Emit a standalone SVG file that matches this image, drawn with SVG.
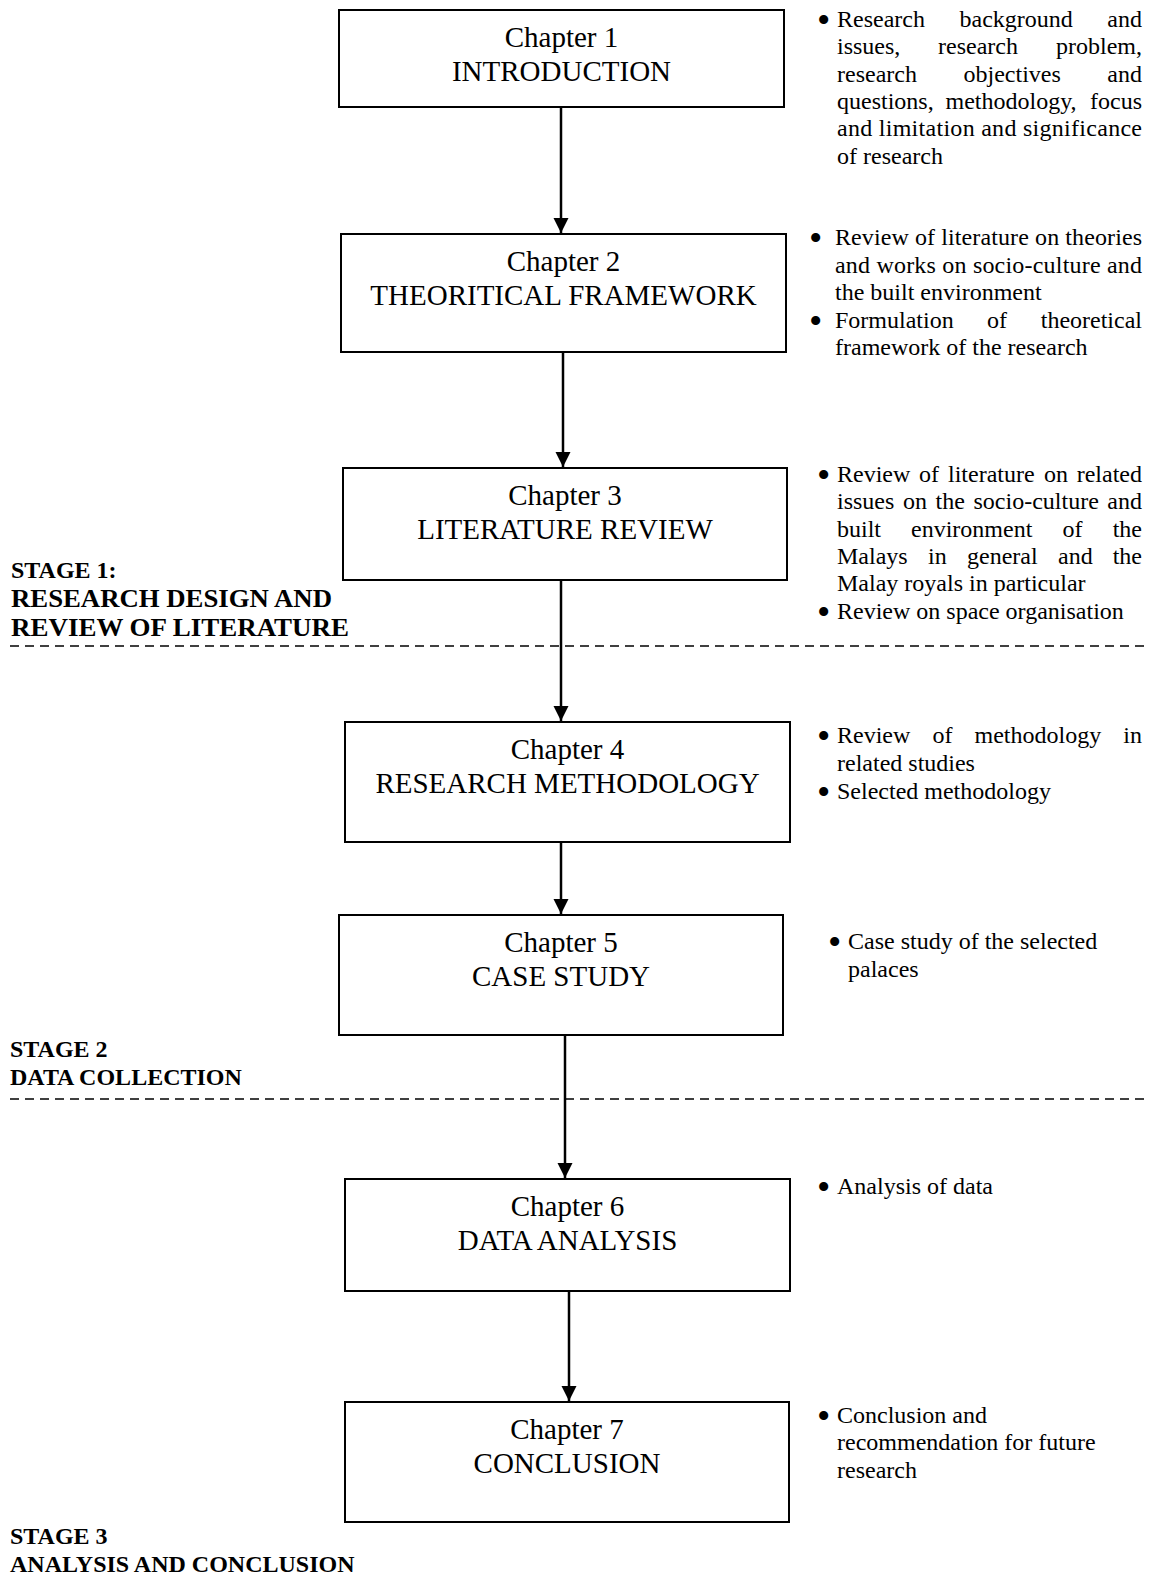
<svg xmlns="http://www.w3.org/2000/svg" width="1152" height="1584" viewBox="0 0 1152 1584">
<style>
.box{fill:#fff;stroke:#000;stroke-width:2}
.bt{font-family:"Liberation Serif","Times New Roman",serif;font-size:29px;fill:#000;text-anchor:middle}
.st{font-family:"Liberation Serif","Times New Roman",serif;font-size:24px;font-weight:bold;fill:#000}
.st2{font-family:"Liberation Serif","Times New Roman",serif;font-size:26px;font-weight:bold;fill:#000}
.nt{font-family:"Liberation Serif","Times New Roman",serif;font-size:24px;fill:#000}
.ne{font-family:"Liberation Serif","Times New Roman",serif;font-size:24px;fill:#000;text-anchor:end}
.bu{font-family:"Liberation Serif","Times New Roman",serif;font-size:38px;fill:#000}
.conn{stroke:#000;stroke-width:2.5;fill:none;marker-end:url(#ah)}
.dash{stroke:#000;stroke-width:1.5;stroke-dasharray:9 6;fill:none}
</style>
<defs>
<marker id="ah" markerUnits="userSpaceOnUse" markerWidth="16" markerHeight="16" viewBox="0 0 16 16" refX="15" refY="8" orient="auto">
<path d="M0,0.5 L15,8 L0,15.5 z" fill="#000"/>
</marker>
</defs>

<g id="stage-lines">
<line class="dash" x1="10" y1="646" x2="1150" y2="646"/>
<line class="dash" x1="10" y1="1099" x2="1150" y2="1099"/>
</g>

<g id="connectors">
<line class="conn" x1="561" y1="108" x2="561" y2="233"/>
<line class="conn" x1="563" y1="353" x2="563" y2="467"/>
<line class="conn" x1="561" y1="581" x2="561" y2="721"/>
<line class="conn" x1="561" y1="843" x2="561" y2="914"/>
<line class="conn" x1="565" y1="1036" x2="565" y2="1178"/>
<line class="conn" x1="569" y1="1292" x2="569" y2="1401"/>
</g>

<g id="ch1">
<rect class="box" x="339" y="10" width="445" height="97"/>
<text class="bt" x="561.5" y="47">Chapter 1</text>
<text class="bt" x="561.5" y="81">INTRODUCTION</text>
</g>
<g id="ch2">
<rect class="box" x="341" y="234" width="445" height="118"/>
<text class="bt" x="563.5" y="271">Chapter 2</text>
<text class="bt" x="563.5" y="305">THEORITICAL FRAMEWORK</text>
</g>
<g id="ch3">
<rect class="box" x="343" y="468" width="444" height="112"/>
<text class="bt" x="565" y="505">Chapter 3</text>
<text class="bt" x="565" y="539">LITERATURE REVIEW</text>
</g>
<g id="ch4">
<rect class="box" x="345" y="722" width="445" height="120"/>
<text class="bt" x="567.5" y="759">Chapter 4</text>
<text class="bt" x="567.5" y="793">RESEARCH METHODOLOGY</text>
</g>
<g id="ch5">
<rect class="box" x="339" y="915" width="444" height="120"/>
<text class="bt" x="561" y="952">Chapter 5</text>
<text class="bt" x="561" y="986">CASE STUDY</text>
</g>
<g id="ch6">
<rect class="box" x="345" y="1179" width="445" height="112"/>
<text class="bt" x="567.5" y="1216">Chapter 6</text>
<text class="bt" x="567.5" y="1250">DATA ANALYSIS</text>
</g>
<g id="ch7">
<rect class="box" x="345" y="1402" width="444" height="120"/>
<text class="bt" x="567" y="1439">Chapter 7</text>
<text class="bt" x="567" y="1473">CONCLUSION</text>
</g>

<g id="notes1">
<text class="bu" x="817" y="33">•</text>
<text class="nt" x="837" y="27">Research</text>
<text class="nt" x="959.5" y="27">background</text>
<text class="ne" x="1142" y="27">and</text>
<text class="nt" x="837" y="54">issues,</text>
<text class="nt" x="938" y="54">research</text>
<text class="ne" x="1142" y="54">problem,</text>
<text class="nt" x="837" y="82">research</text>
<text class="nt" x="963.5" y="82">objectives</text>
<text class="ne" x="1142" y="82">and</text>
<text class="nt" x="837" y="109">questions,</text>
<text class="nt" x="945.5" y="109">methodology,</text>
<text class="ne" x="1142" y="109">focus</text>
<text class="nt" x="837" y="136" textLength="305" lengthAdjust="spacing">and limitation and significance</text>
<text class="nt" x="837" y="164">of research</text>
</g>

<g id="notes2">
<text class="bu" x="809" y="251">•</text>
<text class="nt" x="835" y="245" textLength="307" lengthAdjust="spacing">Review of literature on theories</text>
<text class="nt" x="835" y="273" textLength="307" lengthAdjust="spacing">and works on socio-culture and</text>
<text class="nt" x="835" y="300">the built environment</text>
<text class="bu" x="809" y="334">•</text>
<text class="nt" x="835" y="328">Formulation</text>
<text class="nt" x="987" y="328">of</text>
<text class="ne" x="1142" y="328">theoretical</text>
<text class="nt" x="835" y="355">framework of the research</text>
</g>

<g id="notes3">
<text class="bu" x="817" y="488">•</text>
<text class="nt" x="837" y="482">Review</text>
<text class="nt" x="919" y="482">of</text>
<text class="nt" x="948" y="482">literature</text>
<text class="nt" x="1044" y="482">on</text>
<text class="ne" x="1142" y="482">related</text>
<text class="nt" x="837" y="509">issues</text>
<text class="nt" x="903" y="509">on</text>
<text class="nt" x="935.5" y="509">the</text>
<text class="nt" x="973.5" y="509">socio-culture</text>
<text class="ne" x="1142" y="509">and</text>
<text class="nt" x="837" y="537">built</text>
<text class="nt" x="911" y="537">environment</text>
<text class="nt" x="1062.5" y="537">of</text>
<text class="ne" x="1142" y="537">the</text>
<text class="nt" x="837" y="564">Malays</text>
<text class="nt" x="928" y="564">in</text>
<text class="nt" x="967" y="564">general</text>
<text class="nt" x="1058" y="564">and</text>
<text class="ne" x="1142" y="564">the</text>
<text class="nt" x="837" y="591">Malay royals in particular</text>
<text class="bu" x="817" y="625">•</text>
<text class="nt" x="837" y="619">Review on space organisation</text>
</g>

<g id="notes4">
<text class="bu" x="817" y="749">•</text>
<text class="nt" x="837" y="743">Review</text>
<text class="nt" x="932.5" y="743">of</text>
<text class="nt" x="974.5" y="743">methodology</text>
<text class="ne" x="1142" y="743">in</text>
<text class="nt" x="837" y="771">related studies</text>
<text class="bu" x="817" y="805">•</text>
<text class="nt" x="837" y="799">Selected methodology</text>
</g>

<g id="notes5">
<text class="bu" x="828" y="955">•</text>
<text class="nt" x="848" y="949">Case study of the selected</text>
<text class="nt" x="848" y="977">palaces</text>
</g>

<g id="notes6">
<text class="bu" x="817" y="1200">•</text>
<text class="nt" x="837" y="1194">Analysis of data</text>
</g>

<g id="notes7">
<text class="bu" x="817" y="1429">•</text>
<text class="nt" x="837" y="1423">Conclusion and</text>
<text class="nt" x="837" y="1450">recommendation for future</text>
<text class="nt" x="837" y="1478">research</text>
</g>

<g id="stage1">
<text class="st" x="11" y="578">STAGE 1:</text>
<text class="st2" x="11" y="607" textLength="321" lengthAdjust="spacingAndGlyphs">RESEARCH DESIGN AND</text>
<text class="st2" x="11" y="636" textLength="338" lengthAdjust="spacingAndGlyphs">REVIEW OF LITERATURE</text>
</g>
<g id="stage2">
<text class="st" x="10" y="1057">STAGE 2</text>
<text class="st" x="10" y="1085">DATA COLLECTION</text>
</g>
<g id="stage3">
<text class="st" x="10" y="1544">STAGE 3</text>
<text class="st" x="10" y="1572">ANALYSIS AND CONCLUSION</text>
</g>
</svg>
